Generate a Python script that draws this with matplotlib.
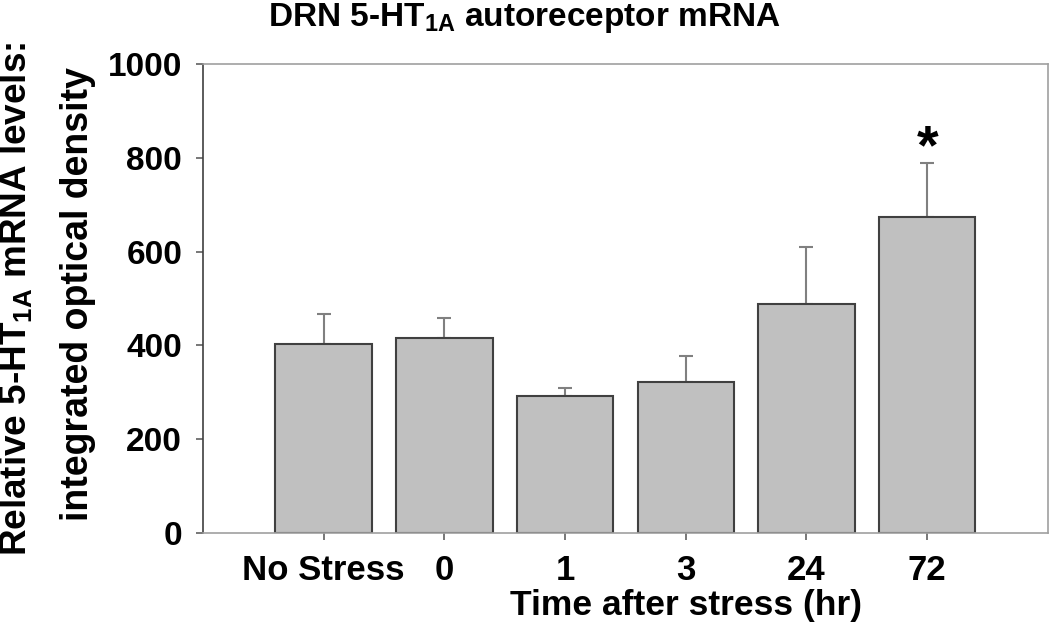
import matplotlib
matplotlib.use("Agg")
import matplotlib.pyplot as plt
import numpy as np

plt.rcParams['font.family'] = ['Liberation Sans', 'DejaVu Sans']
plt.rcParams['font.weight'] = 'bold'
plt.rcParams['mathtext.fontset'] = 'custom'
plt.rcParams['mathtext.rm'] = 'Liberation Sans:bold'
plt.rcParams['mathtext.bf'] = 'Liberation Sans:bold'

# data
categories = ['No Stress', '0', '1', '3', '24', '72']
means = [403, 416, 292, 322, 488, 674]
sem = [64, 42, 18, 55, 122, 114]
significant = [False, False, False, False, False, True]

fig = plt.figure(figsize=(10.5, 6.42), dpi=100)
ax = fig.add_axes([0.1933, 0.1698, 0.8047, 0.7305])

x = np.arange(len(categories))
ax.bar(x, means, 0.8, color='#c0c0c0', edgecolor='#404040', linewidth=1.5, zorder=2)
ax.errorbar(x, means, yerr=[np.zeros(len(sem)), sem], fmt='none',
            ecolor='#808080', elinewidth=1.5, capsize=4.7, capthick=1.5, zorder=1)

# significance marker
for xi, m, s, sig in zip(x, means, sem, significant):
    if sig:
        ax.text(xi, m + s, '*', ha='center', va='baseline', fontsize=40, fontweight='bold')

ax.set_xlim(-1, 6)
ax.set_ylim(0, 1000)
ax.set_xticks(x)
ax.set_xticklabels(categories)
ax.set_yticks([0, 200, 400, 600, 800, 1000])

ax.tick_params(axis='both', direction='out', length=5, width=1.2, color='#606060')
ax.tick_params(axis='x', labelsize=25, pad=10)
ax.tick_params(axis='y', labelsize=24, pad=10)
for lab in ax.get_xticklabels() + ax.get_yticklabels():
    lab.set_fontweight('bold')

ax.spines['left'].set_color('#404040')
ax.spines['left'].set_linewidth(1.2)
for side in ['top', 'right', 'bottom']:
    ax.spines[side].set_color('#a0a0a0')
    ax.spines[side].set_linewidth(1.2)

fig.text(0.499, 0.96, r'DRN 5-HT$_{\mathrm{1A}}$ autoreceptor mRNA', ha='center', va='baseline',
         fontsize=24, fontweight='bold')
fig.text(0.653, 0.042, 'Time after stress (hr)', ha='center', va='baseline',
         fontsize=25.5, fontweight='bold')

# two-line y label, placed line by line
fig.text(0.0257, 0.535, r'Relative 5-HT$_{\mathrm{1A}}$ mRNA levels:', ha='center', va='baseline',
         rotation=90, rotation_mode='anchor', fontsize=26.6, fontweight='bold')
fig.text(0.0838, 0.542, 'integrated optical density', ha='center', va='baseline',
         rotation=90, rotation_mode='anchor', fontsize=27, fontweight='bold')

fig.savefig('out.png', dpi=100)
